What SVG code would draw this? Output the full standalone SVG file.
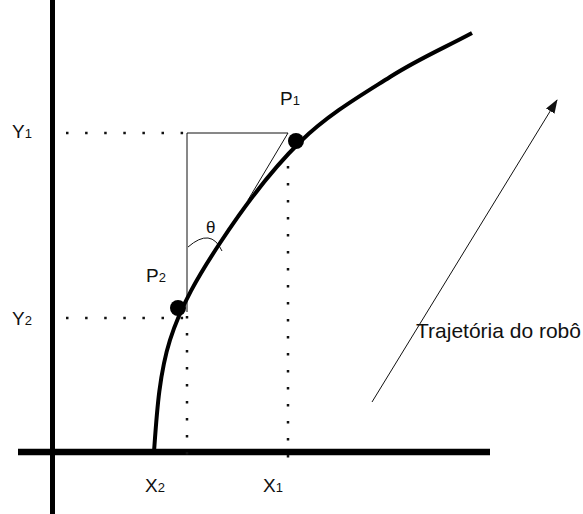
<svg xmlns="http://www.w3.org/2000/svg" width="583" height="514" viewBox="0 0 583 514">
<style>
.lbl{font-family:"Liberation Sans",Arial,sans-serif;font-size:19px;fill:#111}
.sub{font-size:13px}
.dot{stroke:#111;stroke-width:2.5;fill:none}
.dh{stroke-dasharray:2.5 16.6}
.dv{stroke-dasharray:2.5 14.5}
.thin{stroke:#111;stroke-width:1;fill:none}
</style>
<defs>
<marker id="ah" viewBox="0 0 14 10" refX="13" refY="5" markerWidth="14" markerHeight="10" markerUnits="userSpaceOnUse" orient="auto">
<path d="M0,0 L14,5 L0,10 z" fill="#111"/>
</marker>
</defs>
<rect width="583" height="514" fill="#fff"/>
<g id="axes">
<line x1="52.5" y1="0" x2="52.5" y2="514" stroke="#000" stroke-width="5"/>
<line x1="18" y1="452" x2="490" y2="452" stroke="#000" stroke-width="6.5"/>
</g>
<g id="guides">
<line class="dot dh" x1="66" y1="133" x2="186" y2="133"/>
<line class="dot dh" x1="66" y1="318" x2="186" y2="318"/>
<line class="dot dv" x1="187" y1="316" x2="187" y2="460"/>
<line class="dot dv" x1="288" y1="166" x2="288" y2="460"/>
<polyline class="thin" points="187,312 187,133 288,133 248,200"/>
<path class="thin" d="M188,247 Q211,227 222,251"/>
</g>
<g id="curve">
<path d="M154,452 C156.7,414.7 159,374.8 170,340 C181,305.2 198.3,276 220,243 C241.7,210 271.7,169.7 300,142 C328.3,114.3 361.3,95.2 390,77 C418.7,58.8 444.7,47.7 472,33" stroke="#000" stroke-width="4" fill="none"/>
</g>
<g id="P1"><circle cx="296" cy="141" r="8" fill="#000"/><text class="lbl" x="280" y="105">P<tspan class="sub">1</tspan></text></g>
<g id="P2"><circle cx="178" cy="308" r="8" fill="#000"/><text class="lbl" x="146" y="282">P<tspan class="sub">2</tspan></text></g>
<g id="theta"><text class="lbl" x="206" y="233" style="font-size:17px">θ</text></g>
<g id="labels">
<text class="lbl" x="12" y="138">Y<tspan class="sub">1</tspan></text>
<text class="lbl" x="12" y="325">Y<tspan class="sub">2</tspan></text>
<text class="lbl" x="145" y="492">X<tspan class="sub">2</tspan></text>
<text class="lbl" x="263" y="492">X<tspan class="sub">1</tspan></text>
</g>
<g id="connectors">
<line x1="372" y1="402" x2="557" y2="100" stroke="#111" stroke-width="1" marker-end="url(#ah)"/>
</g>
<g id="trajetoria"><text class="lbl" x="416" y="338" style="font-size:21px">Trajetória do robô</text></g>
</svg>
